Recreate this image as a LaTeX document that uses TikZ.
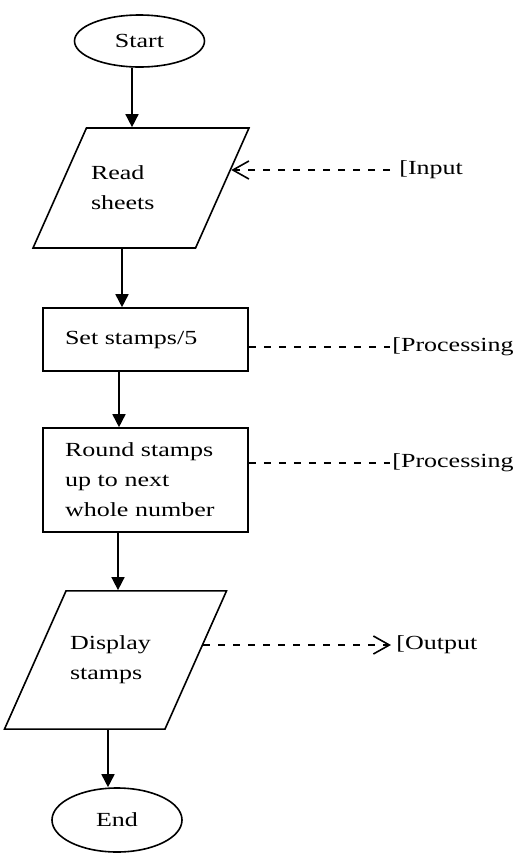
\documentclass[tikz,border=0pt]{standalone}
\usepackage{fontspec}
\setmainfont{Liberation Serif}[FakeStretch=1.3]
\usepackage{tikz}
\usetikzlibrary{shapes.geometric, arrows.meta, calc, positioning}
\newcommand{\chartfont}{\fontsize{10}{15}\selectfont}
\tikzstyle{startstop} = [ellipse, draw, line width=0.8pt, minimum width=65pt, inner sep=1pt, font=\chartfont]
\tikzstyle{io} = [trapezium, trapezium left angle=66, trapezium right angle=114, trapezium stretches body=true, draw, line width=0.8pt, minimum width=108pt, inner xsep=2pt, align=left, font=\chartfont]
\tikzstyle{process} = [rectangle, draw, line width=0.8pt, minimum width=102.5pt, inner xsep=3pt, text width=80.5pt, align=left, font=\chartfont]
\tikzstyle{note} = [inner sep=1pt, anchor=west, font=\chartfont]
\tikzstyle{arrow} = [line width=0.8pt,-{Triangle[length=6.5pt,width=6.5pt]}]
\tikzstyle{dashline} = [line width=0.8pt, dash pattern=on 3.5pt off 4pt]
\tikzstyle{dasharrow} = [dashline, -{Straight Barb[length=8pt,width=9pt]}]

\begin{document}
\begin{tikzpicture}[x=0.5pt,y=-0.5pt]
        \useasboundingbox (0,0) rectangle (522,853);
        \node (step1) [startstop, minimum height=26pt] at (139.5,41) {Start};
        \node (step2) [io, text width=50pt, inner ysep=19pt] at (141,188) {Read\\sheets};
        \node (step3) [process, minimum height=31.5pt] at (145.5,339.5) {Set stamps/5};
        \node (step4) [process, minimum height=52pt] at (145.5,480) {Round stamps\\up to next\\whole number};
        \node (step5) [io, text width=45.5pt, inner ysep=22.5pt] at (115.5,660) {Display\\stamps};
        \node (step6) [startstop, minimum height=32pt] at (117,820) {End};

        \node (note1) [note] at (397,170) {[Input};
        \node (note2) [note] at (390,347) {[Processing};
        \node (note3) [note] at (390,463) {[Processing};
        \node (note4) [note] at (394,645) {[Output};

        \draw [arrow] ([xshift=-3.75pt]step1.south) -- ([xshift=-4.5pt]step2.north);
        \draw [arrow] ([xshift=-9.5pt]step2.south) -- ([xshift=-11.75pt]step3.north);
        \draw [arrow] ([xshift=-13.25pt]step3.south) -- ([xshift=-13.25pt]step4.north);
        \draw [arrow] ([xshift=-13.75pt]step4.south) -- ([xshift=1.25pt]step5.north);
        \draw [arrow] ([xshift=-3.75pt]step5.south) -- ([xshift=-4.5pt]step6.north);

        \coordinate (in2) at ($(step2.top right corner)!0.35!(step2.bottom right corner)$);
        \coordinate (out5) at ($(step5.top right corner)!0.39!(step5.bottom right corner)$);
        \draw [dasharrow] ([xshift=-3.5pt]note1.west) -- (note1.west -| in2);
        \draw [dashline] (step3.east |- note2.west) -- (note2.west);
        \draw [dashline] (step4.east |- note3.west) -- (note3.west);
        \draw [dasharrow] (out5 |- note4.west) -- ([xshift=-1.5pt]note4.west);
    \end{tikzpicture}
\end{document}
